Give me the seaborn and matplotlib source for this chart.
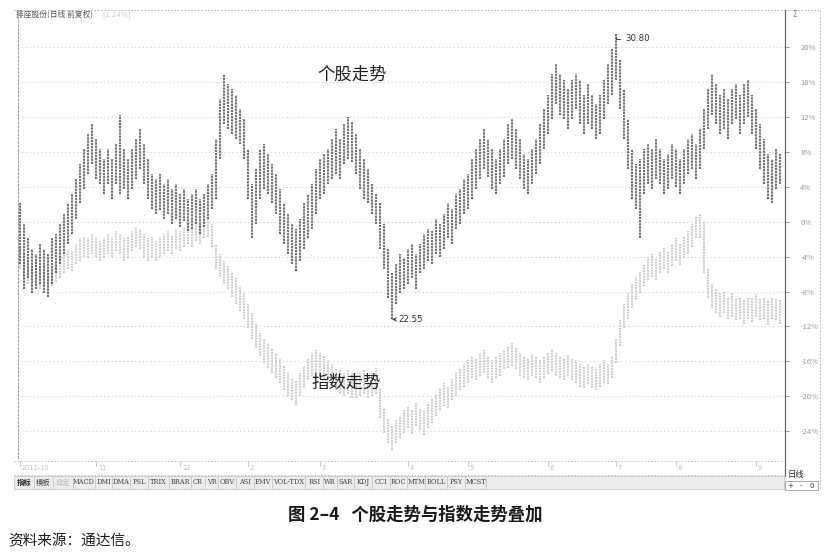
import numpy as np
import matplotlib
matplotlib.use("Agg")
import matplotlib.pyplot as plt
import seaborn as sns

# ---------------- data (percent change vs. first bar) ----------------
stock_high = [2.1, -0.2, -1.9, -3.1, -3.7, -2.5, -3.1, -3.7, -1.9, -1.4,
              -0.2, 0.9, 2.1, 3.2, 4.9, 6.6, 8.3, 10.1, 11.2, 9.5,
              8.3, 7.2, 8.3, 7.2, 8.9, 12.3, 8.3, 7.2, 8.3, 9.5,
              10.6, 8.9, 7.2, 5.5, 4.9, 5.5, 4.3, 4.9, 3.8, 4.3,
              3.2, 3.8, 2.6, 3.2, 3.8, 2.6, 3.2, 4.3, 5.5, 9.5,
              14.1, 16.9, 15.8, 15.2, 14.6, 12.9, 11.8, 8.3, 4.3, 6.1,
              8.3, 8.9, 7.8, 6.6, 5.5, 3.8, 2.1, 0.9, -0.2, -0.8,
              0.3, 2.1, 3.2, 4.3, 6.1, 7.2, 7.8, 8.3, 9.5, 10.6,
              9.5, 11.2, 12.0, 11.5, 10.1, 8.3, 7.2, 6.1, 4.3, 3.2,
              2.1, -0.2, -3.1, -5.9, -4.8, -3.7, -4.2, -3.1, -2.5, -3.7,
              -2.5, -1.4, -0.8, -1.0, 0.3, -0.2, 0.9, 2.1, 1.5, 3.2,
              3.8, 4.9, 5.5, 7.2, 8.3, 9.5, 10.6, 9.5, 8.3, 7.2,
              8.3, 9.5, 11.2, 11.8, 10.6, 9.5, 7.8, 7.2, 8.3, 9.5,
              11.2, 12.9, 14.6, 16.9, 18.1, 16.9, 16.3, 15.2, 16.3, 16.9,
              16.3, 14.6, 15.8, 14.6, 13.5, 14.6, 16.3, 18.1, 19.8, 21.5,
              18.6, 15.2, 11.8, 8.3, 6.6, 7.2, 8.3, 8.9, 8.3, 9.5,
              8.3, 7.2, 7.8, 8.9, 8.3, 7.2, 8.3, 9.5, 10.1, 8.9,
              10.6, 12.9, 15.2, 16.9, 15.8, 14.6, 15.2, 14.1, 15.2, 15.8,
              14.6, 15.8, 16.3, 14.6, 12.9, 11.2, 9.5, 7.8, 7.2, 8.3,
              7.8]
stock_low = [-4.8, -7.7, -6.5, -8.2, -7.7, -7.1, -8.2, -8.6, -7.1, -5.9,
             -4.8, -3.7, -2.5, -1.4, 0.3, 2.1, 3.8, 5.5, 6.6, 4.9,
             4.3, 3.2, 4.3, 2.6, 4.3, 3.2, 3.8, 2.6, 3.8, 4.9,
             6.1, 4.3, 2.6, 1.5, 0.9, 1.3, 0.3, 0.9, -0.2, 0.3,
             -0.6, 0.1, -1.0, -0.8, -0.2, -1.4, -0.6, 0.3, 1.5, 2.6,
             7.2, 11.2, 10.6, 10.1, 9.5, 8.9, 7.2, 2.6, -1.9, -0.2,
             2.6, 3.8, 3.2, 2.1, 0.9, -1.4, -2.5, -3.7, -4.8, -5.6,
             -4.5, -3.1, -1.9, -0.8, 0.9, 2.6, 3.2, 4.3, 4.9, 5.5,
             4.9, 6.6, 7.2, 6.9, 5.5, 3.8, 2.6, 2.1, 0.9, -0.2,
             -3.1, -5.4, -8.8, -11.2, -9.4, -8.2, -7.7, -7.1, -6.5, -7.7,
             -5.9, -5.4, -4.5, -4.8, -3.7, -4.0, -3.1, -1.9, -2.5, -0.8,
             -0.2, 0.9, 1.5, 2.6, 3.8, 4.9, 6.1, 5.1, 3.8, 3.2,
             4.3, 5.1, 6.6, 7.2, 6.1, 4.9, 3.8, 3.2, 4.3, 5.5,
             6.6, 8.3, 10.1, 11.8, 13.5, 12.3, 11.8, 10.6, 11.8, 12.9,
             11.2, 10.1, 11.2, 10.6, 9.5, 10.1, 11.8, 13.5, 14.6, 16.3,
             12.9, 9.5, 6.1, 2.6, 1.5, -1.9, 3.2, 4.3, 3.8, 4.9,
             4.3, 3.2, 3.8, 4.9, 4.0, 3.2, 4.3, 5.5, 6.1, 4.9,
             6.1, 8.3, 10.6, 12.3, 11.2, 10.1, 10.6, 9.5, 11.2, 11.8,
             10.1, 11.2, 12.0, 10.1, 8.3, 6.1, 4.3, 2.6, 2.1, 3.8,
             4.3]

index_high = [-2.9, -3.7, -4.2, -4.8, -4.5, -5.1, -4.8, -5.4, -5.1, -4.5,
              -4.0, -3.7, -3.1, -3.3, -2.5, -1.9, -1.7, -1.9, -1.4, -1.7,
              -2.2, -1.9, -1.4, -1.7, -1.0, -1.4, -1.9, -1.7, -1.0, -0.6,
              -0.8, -1.4, -1.9, -1.7, -2.2, -1.7, -1.4, -1.0, -1.5, -0.8,
              -1.1, -0.6, -0.2, -0.6, 0.1, -0.2, 0.3, 0.6, -0.2, -2.5,
              -3.7, -4.5, -5.1, -5.9, -6.5, -7.4, -8.2, -9.4, -10.5, -11.7,
              -12.8, -13.4, -13.9, -14.5, -15.1, -15.7, -16.6, -17.4, -17.9, -18.3,
              -17.4, -16.6, -15.7, -15.1, -14.7, -15.1, -15.4, -15.9, -16.3, -16.8,
              -17.0, -17.4, -17.0, -17.4, -17.7, -17.4, -17.0, -17.7, -17.4, -16.8,
              -19.1, -21.4, -22.5, -23.4, -22.7, -22.3, -21.6, -21.1, -21.6, -20.8,
              -21.4, -21.6, -20.8, -20.2, -19.7, -19.1, -18.5, -18.9, -17.9, -17.4,
              -16.8, -16.3, -15.9, -15.4, -15.7, -15.1, -14.7, -15.4, -15.9, -15.4,
              -15.1, -14.7, -14.3, -13.9, -14.5, -15.1, -15.4, -15.7, -15.2, -15.4,
              -15.9, -15.4, -15.1, -14.7, -15.1, -15.4, -15.7, -15.2, -15.7, -15.9,
              -16.3, -16.6, -16.3, -16.6, -16.8, -16.3, -15.9, -16.3, -15.4, -13.4,
              -11.3, -9.4, -8.2, -7.1, -6.3, -5.6, -4.8, -4.0, -3.7, -4.2,
              -3.3, -2.9, -3.3, -2.5, -1.9, -2.5, -1.7, -1.0, -0.2, 0.6,
              0.9, 0.1, -5.4, -7.1, -7.7, -8.2, -7.9, -8.6, -8.2, -8.8,
              -8.6, -9.0, -8.6, -8.8, -8.3, -8.8, -8.6, -9.0, -8.6, -8.8,
              -9.0]
index_low = [-5.4, -6.3, -7.1, -7.4, -7.1, -7.7, -7.4, -7.9, -7.4, -6.9,
             -6.5, -5.9, -5.4, -5.6, -4.8, -4.5, -4.0, -4.2, -3.7, -4.0,
             -4.5, -4.2, -3.7, -4.0, -3.3, -3.7, -4.5, -4.2, -3.3, -2.9,
             -3.1, -4.0, -4.5, -4.0, -4.5, -4.0, -3.7, -3.3, -3.7, -3.1,
             -3.3, -2.9, -2.5, -2.9, -2.2, -2.5, -1.9, -1.7, -2.9, -5.4,
             -6.3, -7.1, -7.7, -8.6, -9.4, -10.2, -11.1, -12.2, -13.4, -14.5,
             -15.4, -16.2, -16.8, -17.4, -17.9, -18.5, -19.3, -20.0, -20.5, -21.0,
             -20.0, -19.1, -18.2, -17.7, -17.4, -17.7, -18.2, -18.5, -18.9, -19.3,
             -19.7, -20.0, -19.7, -20.2, -20.2, -20.0, -19.7, -20.2, -20.0, -19.7,
             -22.5, -24.2, -25.4, -26.2, -25.4, -24.8, -24.2, -23.7, -24.3, -23.4,
             -23.9, -24.5, -23.7, -23.1, -22.3, -21.6, -21.1, -21.4, -20.5, -20.0,
             -19.3, -18.9, -18.5, -17.9, -18.2, -17.7, -17.4, -17.9, -18.5, -17.9,
             -17.7, -16.9, -16.8, -16.5, -16.9, -17.7, -17.9, -18.1, -17.7, -17.9,
             -18.5, -17.9, -17.5, -17.1, -17.7, -17.9, -18.1, -17.7, -18.2, -18.5,
             -18.9, -19.1, -18.6, -19.1, -19.3, -18.9, -18.5, -18.6, -17.9, -16.2,
             -14.3, -12.2, -11.1, -9.9, -9.0, -8.2, -7.4, -6.7, -6.3, -6.7,
             -5.9, -5.4, -5.9, -5.1, -4.5, -4.9, -4.2, -3.7, -2.9, -1.9,
             -1.9, -5.9, -8.8, -9.9, -10.5, -10.9, -10.5, -11.1, -10.9, -11.3,
             -11.1, -11.7, -11.1, -11.5, -10.9, -11.3, -11.1, -11.8, -11.1, -11.3,
             -11.7]

pct_ticks = [20, 16, 12, 8, 4, 0, -4, -8, -12, -16, -20, -24]
price_extremes = {"high": "30.80", "low": "22.55"}
month_labels = ["2011-10", "11", "12", "2", "3", "4", "5", "6", "7", "8", "9"]
month_bars = [0, 19, 40, 57, 75, 97, 112, 132, 149, 164, 184]
toolbar_tabs = ["指标", "模板", "自定", "MACD", "DMI", "DMA", "FSL", "TRIX", "BRAR",
                "CR", "VR", "OBV", "ASI", "EMV", "VOL-TDX", "RSI", "WR", "SAR",
                "KDJ", "CCI", "ROC", "MTM", "BOLL", "PSY", "MCST"]

# ---------------- style ----------------
sns.set_theme(style="white")
plt.rcParams["font.family"] = ["Noto Sans CJK SC", "DejaVu Sans"]
plt.rcParams["axes.unicode_minus"] = False

W, H = 839, 552
fig = plt.figure(figsize=(W / 100, H / 100), dpi=100)
fig.patch.set_facecolor("white")

# overlay in pixel coordinates for the terminal frame / captions
deco = fig.add_axes([0, 0, 1, 1], zorder=0)
deco.set_xlim(0, W)
deco.set_ylim(H, 0)
deco.axis("off")

# main chart area
L, R, T, B = 18, 785, 10, 458
ax = fig.add_axes([L / W, 1 - B / H, (R - L) / W, (B - T) / H], zorder=2)
ax.patch.set_alpha(0)

n = len(stock_high)
xs = np.arange(n)

ax.vlines(xs, index_low, index_high, colors="#bcbcbc", linewidth=1.1,
          linestyles=(0, (1.2, 0.6)), zorder=2)
ax.vlines(xs, stock_low, stock_high, colors="#5c5c5c", linewidth=1.25,
          linestyles=(0, (1.3, 0.5)), zorder=3)

ax.set_xlim(-0.5, n + 0.3)
ax.set_ylim(-27.1, 24.3)

for t in pct_ticks:
    ax.axhline(t, color="#c8c8c8", linewidth=0.7, linestyle=(0, (1, 3)), zorder=1)

ax.yaxis.tick_right()
ax.set_yticks(pct_ticks)
ax.set_yticklabels([f"{t}%" for t in pct_ticks], fontsize=5.5, color="#9a9a9a")
ax.tick_params(axis="y", direction="out", length=3, width=0.6, color="#888888", pad=8)
ax.set_xticks([])
for s in ["top", "bottom"]:
    ax.spines[s].set_visible(False)
ax.spines["left"].set_linestyle((0, (2, 2)))
ax.spines["left"].set_color("#999999")
ax.spines["left"].set_linewidth(0.7)
ax.spines["right"].set_color("#666666")
ax.spines["right"].set_linewidth(0.9)

# extreme labels
imax = int(np.argmax(stock_high))
imin = int(np.argmin(stock_low))
ax.annotate(price_extremes["high"], xy=(imax, stock_high[imax]), xytext=(7, -3),
            textcoords="offset points", fontsize=6.2, color="#333333",
            family=["DejaVu Sans"], va="center",
            arrowprops=dict(arrowstyle="-", color="#444444", lw=0.7,
                            connectionstyle="angle,angleA=0,angleB=90,rad=0"))
ax.annotate(price_extremes["low"], xy=(imin, stock_low[imin]), xytext=(5, 0),
            textcoords="offset points", fontsize=6.2, color="#333333",
            family=["DejaVu Sans"], va="center",
            arrowprops=dict(arrowstyle="->", color="#444444", lw=0.7,
                            shrinkA=0, shrinkB=0))

# in-chart labels
ax.text(0.435, 0.855, "个股走势", transform=ax.transAxes, fontsize=12.5,
        color="#222222", ha="center", va="center")
ax.text(0.428, 0.168, "指数走势", transform=ax.transAxes, fontsize=12.5,
        color="#222222", ha="center", va="center")

# ---------------- terminal decorations ----------------
dash = (0, (2, 2))
deco.plot([14, 820], [10, 10], color="#aaaaaa", lw=0.6, linestyle=dash)
deco.plot([820, 820], [10, 490], color="#aaaaaa", lw=0.6, linestyle=dash)
deco.plot([785, 785], [458, 476], color="#666666", lw=0.9)
deco.text(16, 14.5, "排座股份(日线 前复权)", fontsize=5.6, color="#555555",
          va="center", ha="left")
deco.text(102, 14.5, "[1.24%]", fontsize=5.2, color="#cfcfcf", va="center",
          ha="left", family=["DejaVu Sans"])
deco.text(792, 14.5, "Σ", fontsize=5.5, color="#888888", va="center",
          family=["DejaVu Sans"])

# date strip
deco.plot([14, 785], [461, 461], color="#bbbbbb", lw=0.6, linestyle=dash)
deco.plot([14, 785], [475, 475], color="#bbbbbb", lw=0.6, linestyle=dash)
for lab, b in zip(month_labels, month_bars):
    xp = L + (b + 0.5) / (n + 0.8) * (R - L)
    deco.plot([xp, xp], [461, 466], color="#c4c4c4", lw=0.6)
    deco.text(xp + 2, 468, lab, fontsize=4.8, color="#c0c0c0", va="center",
              ha="left", family=["DejaVu Sans"])

# toolbar
deco.add_patch(plt.Rectangle((14, 476), 770, 13, facecolor="#ececec",
                             edgecolor="#bdbdbd", lw=0.5))
xp = 15
for k, tab in enumerate(toolbar_tabs):
    cjk = k < 3
    fs = 5.3 if cjk else 4.8
    wpx = (len(tab) * (7.0 if cjk else 4.0)) + 3.5
    col = "#222222" if k == 0 else ("#bbbbbb" if k == 2 else "#444444")
    deco.text(xp + wpx / 2, 482.5, tab, fontsize=fs, color=col, ha="center",
              va="center", weight="bold" if k == 0 else "normal",
              family=["Noto Sans CJK SC", "DejaVu Sans"] if cjk else ["DejaVu Serif"])
    deco.plot([xp + wpx + 1, xp + wpx + 1], [477, 488], color="#bdbdbd", lw=0.5)
    xp += wpx + 2.2
deco.text(796, 475, "日线", fontsize=6, color="#222222", ha="center", va="center")
deco.add_patch(plt.Rectangle((785, 481), 33, 9, facecolor="white",
                             edgecolor="#888888", lw=0.5))
for xx, s in zip([790, 801, 812], ["+", "-", "0"]):
    deco.text(xx, 485.5, s, fontsize=5, color="#333333", ha="center", va="center",
              family=["DejaVu Sans"])

# captions
deco.text(415, 515, "图 2–4   个股走势与指数走势叠加", fontsize=12.5,
          color="#1a1a1a", ha="center", va="center", weight="bold")
deco.text(8, 541, "资料来源：通达信。", fontsize=10.5, color="#1a1a1a",
          ha="left", va="center")

fig.savefig("out.png", dpi=100, facecolor="white")
